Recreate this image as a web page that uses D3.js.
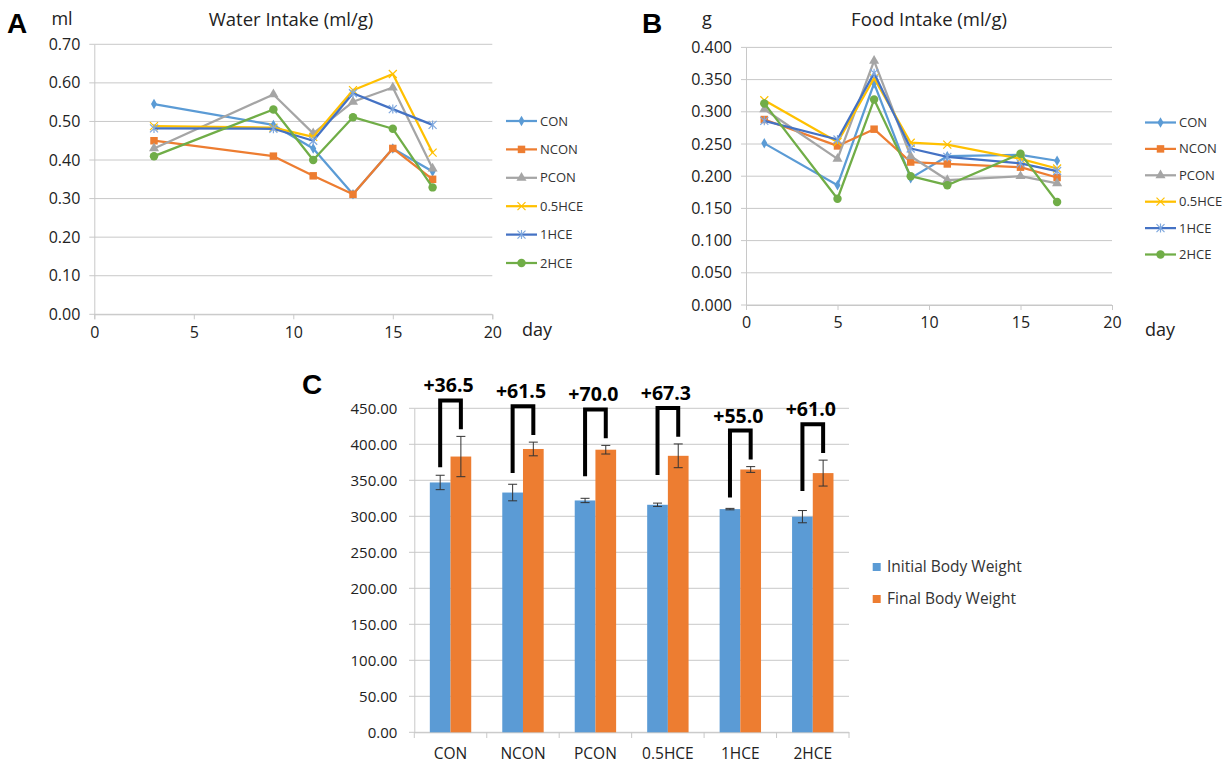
<!DOCTYPE html>
<html>
<head>
<meta charset="utf-8">
<script src="https://cdn.jsdelivr.net/npm/d3@7"></script>
<style>
  body { margin: 0; background: #fff; }
  svg { display: block; font-family: "Open Sans", "Noto Sans", sans-serif; }
</style>
</head>
<body>
<svg id="chart" width="1231" height="764"></svg>
<script>
// ---- data ----
var groups = ["CON", "NCON", "PCON", "0.5HCE", "1HCE", "2HCE"];
var groupColors = ["#5B9BD5", "#ED7D31", "#A5A5A5", "#FFC000", "#4472C4", "#70AD47"];
var markerColors = ["#5B9BD5", "#ED7D31", "#A5A5A5", "#FFC000", "#7FA8DE", "#70AD47"];
var markerTypes = ["diamond", "square", "triangle", "x", "star", "circle"];

// A: water intake
var waterDays = [3, 9, 11, 13, 15, 17];
var waterCON = [0.545, 0.491, 0.430, 0.311, 0.430, 0.370];
var waterNCON = [0.450, 0.410, 0.359, 0.311, 0.430, 0.350];
var waterPCON = [0.430, 0.570, 0.469, 0.551, 0.588, 0.378];
var water05HCE = [0.488, 0.484, 0.460, 0.581, 0.623, 0.419];
var water1HCE = [0.482, 0.481, 0.450, 0.573, 0.532, 0.491];
var water2HCE = [0.410, 0.531, 0.400, 0.511, 0.481, 0.329];
var waterTicksY = [0, 0.1, 0.2, 0.3, 0.4, 0.5, 0.6, 0.7];

// B: food intake
var foodDays = [1, 5, 7, 9, 11, 15, 17];
var foodCON = [0.251, 0.186, 0.344, 0.197, 0.231, 0.233, 0.224];
var foodNCON = [0.288, 0.247, 0.273, 0.222, 0.219, 0.214, 0.198];
var foodPCON = [0.304, 0.227, 0.379, 0.231, 0.194, 0.200, 0.189];
var food05HCE = [0.318, 0.253, 0.352, 0.252, 0.249, 0.227, 0.212];
var food1HCE = [0.286, 0.257, 0.360, 0.243, 0.230, 0.220, 0.208];
var food2HCE = [0.313, 0.165, 0.319, 0.200, 0.186, 0.235, 0.160];
var foodTicksY = [0, 0.05, 0.1, 0.15, 0.2, 0.25, 0.3, 0.35, 0.4];

var dayTicks = [0, 5, 10, 15, 20];

// C: body weight
var bwSeries = ["Initial Body Weight", "Final Body Weight"];
var bwColors = ["#5B9BD5", "#ED7D31"];
var initialBW = [347, 333, 322, 316, 310, 299.5];
var finalBW = [383, 393.5, 392.5, 384, 365, 360];
var initialErr = [10, 11.5, 3, 2.3, 1, 8.5];
var finalErr = [28, 9.5, 6, 16.5, 4, 18];
var gainLabels = ["+36.5", "+61.5", "+70.0", "+67.3", "+55.0", "+61.0"];
var bwTicksY = [0, 50, 100, 150, 200, 250, 300, 350, 400, 450];

var svg = d3.select("#chart");
var gridColor = "#c8c8c8";

function markerPath(type) {
  var s = {
    diamond: d3.symbol(d3.symbolDiamond, 32),
    square: d3.symbol(d3.symbolSquare, 56),
    triangle: d3.symbol(d3.symbolTriangle, 44),
    circle: d3.symbol(d3.symbolCircle, 56)
  };
  return s[type]();
}

function drawMarker(g, type, color, x, y) {
  var p = g.append("path").attr("transform", "translate(" + x + "," + y + ")");
  if (type === "x") {
    p.attr("d", "M-4,-4L4,4M-4,4L4,-4")
      .attr("stroke", color).attr("stroke-width", 1.2).attr("fill", "none");
  } else if (type === "star") {
    p.attr("d", "M-4,-4L4,4M-4,4L4,-4M0,-4.5L0,4.5")
      .attr("stroke", color).attr("stroke-width", 1.2).attr("fill", "none");
  } else {
    p.attr("d", markerPath(type)).attr("fill", color);
  }
}

function linePanel(opt) {
  var g = svg.append("g");
  var x = d3.scaleLinear().domain([0, 20]).range(opt.xRange);
  var y = d3.scaleLinear().domain([0, opt.yMax]).range(opt.yRange);

  // gridlines
  g.selectAll(".grid").data(opt.yTicks).enter().append("line")
    .attr("x1", opt.xRange[0] - 5).attr("x2", opt.xRange[1])
    .attr("y1", function (d) { return y(d); }).attr("y2", function (d) { return y(d); })
    .attr("stroke", gridColor).attr("stroke-width", 1);

  // axes
  var ax = g.append("g").attr("transform", "translate(0," + opt.yRange[0] + ")")
    .call(d3.axisBottom(x).tickValues(dayTicks).tickSize(5).tickPadding(7).tickFormat(d3.format("d")));
  ax.select(".domain").attr("stroke", gridColor);
  ax.selectAll(".tick line").attr("stroke", gridColor);
  ax.selectAll("text").attr("font-size", 16).attr("fill", "#222").attr("font-family", "Open Sans");

  var ay = g.append("g").attr("transform", "translate(" + opt.xRange[0] + ",0)")
    .call(d3.axisLeft(y).tickValues(opt.yTicks).tickSize(0).tickPadding(14).tickFormat(d3.format(opt.fmt)));
  ay.select(".domain").attr("stroke", gridColor);
  ay.selectAll("text").attr("font-size", 16).attr("fill", "#222").attr("font-family", "Open Sans");

  // series
  var line = d3.line().x(function (d) { return x(d[0]); }).y(function (d) { return y(d[1]); });
  opt.series.forEach(function (vals, i) {
    var pts = opt.days.map(function (d, j) { return [d, vals[j]]; });
    g.append("path").datum(pts).attr("d", line)
      .attr("fill", "none").attr("stroke", groupColors[i]).attr("stroke-width", 2.25)
      .attr("stroke-linejoin", "round");
    pts.forEach(function (p) {
      drawMarker(g, markerTypes[i], markerColors[i], x(p[0]), y(p[1]));
    });
  });

  // legend
  groups.forEach(function (name, i) {
    var ly = opt.legY + i * opt.legStep;
    g.append("line").attr("x1", opt.legX).attr("x2", opt.legX + 31)
      .attr("y1", ly).attr("y2", ly).attr("stroke", groupColors[i]).attr("stroke-width", 2.25);
    drawMarker(g, markerTypes[i], markerColors[i], opt.legX + 15.5, ly);
    g.append("text").attr("x", opt.legX + 34).attr("y", ly).attr("dy", "0.35em")
      .attr("font-size", 13).attr("fill", "#333").text(name);
  });

  // titles
  g.append("text").attr("x", opt.titleX).attr("y", 26).attr("text-anchor", "middle")
    .attr("font-size", 18.5).attr("fill", "#222").text(opt.title);
  g.append("text").attr("x", opt.unitX).attr("y", 25).attr("text-anchor", "middle")
    .attr("font-size", 18).attr("fill", "#222").text(opt.unit);
  g.append("text").attr("x", opt.dayX).attr("y", 336).attr("text-anchor", "middle")
    .attr("font-size", 18).attr("fill", "#222").text("day");
  g.append("text").attr("x", opt.letterX).attr("y", 33)
    .attr("font-size", 28).attr("font-weight", "bold").attr("font-family", "Liberation Sans, Arial")
    .attr("fill", "#000").text(opt.letter);
}

linePanel({
  xRange: [94.3, 492.3], yRange: [314.3, 44.3], yMax: 0.7, yTicks: waterTicksY, fmt: ".2f",
  days: waterDays,
  series: [waterCON, waterNCON, waterPCON, water05HCE, water1HCE, water2HCE],
  legX: 506, legY: 121, legStep: 28.4,
  title: "Water Intake (ml/g)", titleX: 291, unit: "ml", unitX: 62, dayX: 537,
  letter: "A", letterX: 7
});

linePanel({
  xRange: [746, 1112], yRange: [305, 47.4], yMax: 0.4, yTicks: foodTicksY, fmt: ".3f",
  days: foodDays,
  series: [foodCON, foodNCON, foodPCON, food05HCE, food1HCE, food2HCE],
  legX: 1145, legY: 122.5, legStep: 26.4,
  title: "Food Intake (ml/g)", titleX: 929, unit: "g", unitX: 707, dayX: 1160,
  letter: "B", letterX: 642
});

// ---- panel C ----
(function () {
  var g = svg.append("g");
  var x0 = d3.scaleBand().domain(groups).range([414.3, 849]);
  var x1 = d3.scaleBand().domain(bwSeries).range([x0.bandwidth() / 2 - 20.7, x0.bandwidth() / 2 + 20.7]);
  var y = d3.scaleLinear().domain([0, 450]).range([732.3, 408.3]);

  g.selectAll(".grid").data(bwTicksY).enter().append("line")
    .attr("x1", 409).attr("x2", 849)
    .attr("y1", function (d) { return y(d); }).attr("y2", function (d) { return y(d); })
    .attr("stroke", gridColor);

  var ay = g.append("g").attr("transform", "translate(414.3,0)")
    .call(d3.axisLeft(y).tickValues(bwTicksY).tickSize(0).tickPadding(17).tickFormat(d3.format(".2f")));
  ay.select(".domain").attr("stroke", gridColor);
  ay.selectAll("text").attr("font-size", 15).attr("fill", "#222").attr("font-family", "Open Sans");

  var ax = g.append("g").attr("transform", "translate(0,732.3)")
    .call(d3.axisBottom(x0).tickSize(0).tickPadding(16));
  ax.select(".domain").attr("stroke", gridColor);
  ax.selectAll("text").attr("font-size", 15.5).attr("fill", "#222").attr("font-family", "Open Sans");
  // category separators
  g.selectAll(".sep").data(groups.concat(["end"])).enter().append("line")
    .attr("x1", function (d, i) { return 414.3 + i * x0.step(); })
    .attr("x2", function (d, i) { return 414.3 + i * x0.step(); })
    .attr("y1", 732.3).attr("y2", 738).attr("stroke", gridColor);

  var valsBy = [initialBW, finalBW];
  var errBy = [initialErr, finalErr];
  groups.forEach(function (name, i) {
    var gx = x0(name);
    bwSeries.forEach(function (s, k) {
      var bx = gx + x1(s);
      var v = valsBy[k][i], e = errBy[k][i];
      g.append("rect").attr("x", bx).attr("width", x1.bandwidth())
        .attr("y", y(v)).attr("height", y(0) - y(v)).attr("fill", bwColors[k]);
      var cx = bx + x1.bandwidth() / 2;
      g.append("path")
        .attr("d", "M" + cx + "," + y(v + e) + "V" + y(v - e) +
          "M" + (cx - 4.5) + "," + y(v + e) + "H" + (cx + 4.5) +
          "M" + (cx - 4.5) + "," + y(v - e) + "H" + (cx + 4.5))
        .attr("stroke", "#333").attr("stroke-width", 1).attr("fill", "none");
    });

    // bracket
    var lx = gx + x1(bwSeries[0]) + x1.bandwidth() / 2;
    var rx = gx + x1(bwSeries[1]) + x1.bandwidth() / 2;
    var top = finalBW[i] + finalErr[i] + 50;
    g.append("path")
      .attr("d", "M" + lx + "," + y(top - 93) + "V" + y(top) + "H" + rx + "V" + y(top - 40))
      .attr("stroke", "#000").attr("stroke-width", 4).attr("fill", "none");
    g.append("text").attr("x", (lx + rx) / 2 - 2).attr("y", y(top) - 8)
      .attr("text-anchor", "middle").attr("font-size", 19.5).attr("font-weight", "bold")
      .attr("fill", "#000").text(gainLabels[i]);
  });

  // legend
  bwSeries.forEach(function (s, k) {
    var ly = 567 + k * 32;
    g.append("rect").attr("x", 872.7).attr("y", ly - 4).attr("width", 8).attr("height", 8).attr("fill", bwColors[k]);
    g.append("text").attr("x", 887).attr("y", ly).attr("dy", "0.35em")
      .attr("font-size", 15.5).attr("fill", "#333").text(s);
  });

  g.append("text").attr("x", 302).attr("y", 394)
    .attr("font-size", 28).attr("font-weight", "bold").attr("font-family", "Liberation Sans, Arial")
    .attr("fill", "#000").text("C");
})();
</script>
</body>
</html>
